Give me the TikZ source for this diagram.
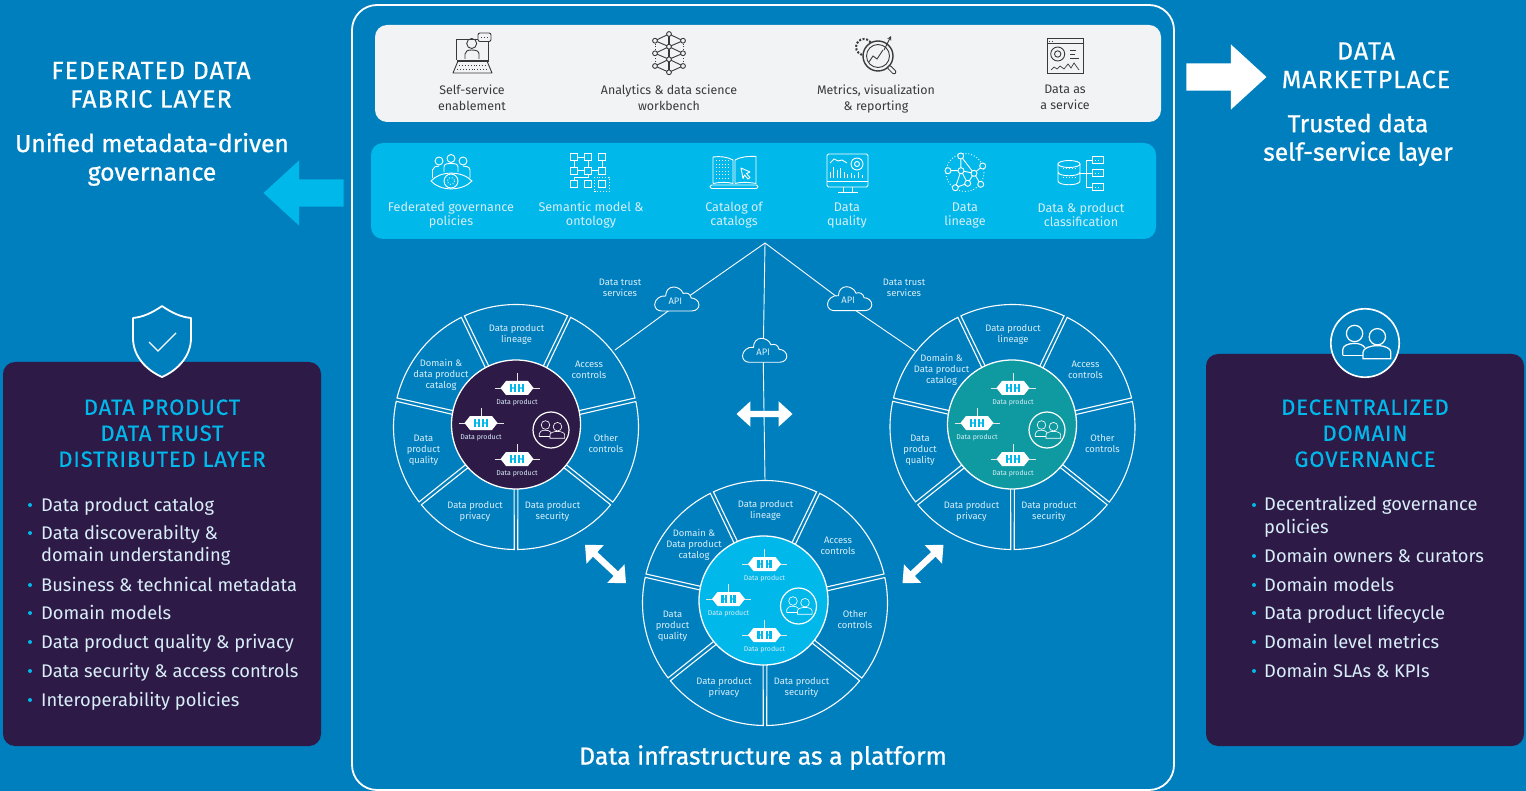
\documentclass[tikz,border=0pt]{standalone}
\usepackage{fontspec}
\setmainfont{Fira Sans}
\newfontfamily\medfont[FakeBold=0.9]{Fira Sans}
\newfontfamily\capsfont[FakeBold=0.6,LetterSpace=4]{Fira Sans}
\usepackage{xcolor}
\usetikzlibrary{calc,shapes,backgrounds}
\definecolor{bgblue}{HTML}{007FBE}
\definecolor{hubpurple}{HTML}{2E1A47}
\definecolor{hubteal}{HTML}{0E9AA0}
\definecolor{hubcyan}{HTML}{00B8EA}
\definecolor{panelgrey}{HTML}{F2F3F5}
\definecolor{txtdark}{HTML}{3A3A3A}
\definecolor{txtpale}{HTML}{D8EEF8}

\tikzset{
  strutted/.style={execute at begin node=\strut, execute at end node=\strut},
  wheelline/.style={draw=white, line width=1.1pt, line join=miter},
  apiline/.style={draw=white, line width=0.9pt},
  hub/.style={circle, draw=white, line width=1.3pt, minimum size=129pt, inner sep=0pt},
  teamring/.style={circle, draw=white, inner sep=0pt},
  wheeltxt/.style={strutted, yshift=-2pt, align=center, text=txtpale, inner sep=0pt, font=\fontsize{9.4}{11}\selectfont},
  prodtxt/.style={text=txtpale, inner sep=0pt, font=\fontsize{7}{8}\selectfont},
  toptxt/.style={strutted, yshift=-3pt, align=center, text=txtdark, inner sep=0pt, font=\fontsize{12.4}{16}\selectfont},
  bandtxt/.style={strutted, yshift=-3pt, align=center, text=txtpale, inner sep=0pt, font=\fontsize{12.6}{14}\selectfont},
  headtxt/.style={strutted, yshift=-4pt, align=center, text=white, inner sep=0pt, font=\fontsize{25}{28.5}\selectfont\capsfont},
  subtxt/.style={strutted, yshift=-3pt, align=center, text=white, inner sep=0pt, font=\fontsize{24.6}{28.5}\selectfont\medfont},
  boxhead/.style={strutted, yshift=-4pt, align=center, text=hubcyan, inner sep=0pt, font=\fontsize{22}{26}\selectfont\capsfont},
  itemtxt/.style={strutted, yshift=-2pt, anchor=west, align=left, text=txtpale, inner sep=0pt, font=\fontsize{18.3}{22.5}\selectfont},
  apitxt/.style={text=txtpale, inner sep=0pt, minimum height=9pt, font=\fontsize{9.4}{10}\selectfont},
  dotitem/.style={circle, fill=hubcyan, inner sep=0pt, minimum size=4pt},
  iconDark/.style={draw=txtdark, line width=0.9pt},
  iconLight/.style={draw=white, line width=0.9pt},
  blockarrow/.style={single arrow, inner xsep=0pt, inner ysep=13.5pt, minimum height=80pt,
    single arrow head extend=19pt, single arrow tip angle=85},
  twoway/.style={double arrow, fill=white, inner xsep=0pt, inner ysep=3pt, minimum height=56pt,
    double arrow head extend=9.5pt, double arrow tip angle=85}
}

\newcommand{\peopleicon}[5]{%
  \node[teamring, minimum size={36pt*#4}, line width={0.7pt+0.5pt*#4}, fill=#5] (#1) at (#2,#3) {};
  \begin{scope}[shift={(#2,#3)}, scale=#4, line width={0.65pt*#4}]
    \draw[white] (-5.5,-5) circle (4.3);
    \draw[white] (-11.7,6.5) -- (-11.7,3.5) .. controls (-11.7,1.5) and (-9,0.2) .. (-5.5,0.2)
      .. controls (-3,0.2) and (-1,1) .. (0,2.5);
    \draw[white, fill=#5] (6.5,-3.3) circle (4.3);
    \draw[white, fill=#5] (-1,8.3) -- (-1,4.8) .. controls (-1,2.8) and (2.5,1.4) .. (6.5,1.4)
      .. controls (10.5,1.4) and (13.6,2.8) .. (13.6,4.8) -- (13.6,8.3) -- cycle;
    \draw[white] (-11.7,6.5) -- (-1,6.5);
  \end{scope}}

\newcommand{\dataprod}[3]{%
  \begin{scope}[shift={(#2,#3)}]
    \draw[white!80!gray, line width=0.8pt] (-22.5,0) -- (22.5,0) (0,-15) -- (0,0);
    \fill[white] (-16.5,0) -- (-11,-7) -- (11,-7) -- (16.5,0) -- (11,7) -- (-11,7) -- cycle;
    \foreach \x in {-6,-2.2,2.2,6} {\fill[hubcyan] (\x-1.1,-3.8) rectangle (\x+1.1,3.8);}
    \fill[hubcyan] (-6,-0.6) rectangle (-2.2,0.6) (2.2,-0.6) rectangle (6,0.6);
    \node[prodtxt] (#1) at (0,15) {Data product};
  \end{scope}}

\newcommand{\apicloud}[3]{%
  \begin{scope}[shift={(#2,#3)}]
    \draw[white, line width=0.9pt, fill=bgblue] (-15,12) -- (15,12) .. controls (20,12) and (22.3,8.5) .. (22.3,6)
      .. controls (22.3,2) and (18.5,-1) .. (14.5,-1) .. controls (14,-5) and (10,-7) .. (6.5,-5.5)
      .. controls (5,-10) and (0,-12) .. (-3,-12) .. controls (-8,-12) and (-11,-8) .. (-11,-3)
      .. controls (-17,-4) and (-22,1) .. (-22,5.5) .. controls (-22,9.5) and (-19,12) .. (-15,12) -- cycle;
    \node[apitxt] (#1) at (-1.3,2) {API};
  \end{scope}}

\newcommand{\datawheel}[7]{%
  \begin{scope}[shift={#2}]
    \foreach \a in {64.3,12.9,-38.6,-90,-141.4,-192.9,-244.3} {
      \draw[wheelline] ({\a+0.8}:122.5pt) arc[start angle={\a+0.8}, end angle={\a+50.6}, radius=122.5pt]
        -- ({\a+49.6}:60pt) -- ({\a+1.8}:60pt) -- cycle;
    }
    \foreach \i/\lx/\ly/\txt in {1/0.5/-94/{Data product\\lineage}, 2/73/-58/{Access\\controls},
        3/90/16/{Other\\controls}, 4/36.5/83/{Data product\\security}, 5/-41/83/{Data product\\privacy},
        6/-92.5/22/{Data\\product\\quality}} {
      \node[wheeltxt] (#1seg\i) at (\lx,\ly) {\txt};
    }
    \node[wheeltxt] (#1cat) at (#4,#5) {Domain \&\\#6 product\\catalog};
    \begin{scope}[shift={(#7,0)}]
      \node[hub, fill=#3] (#1hub) at (0,-2.5) {};
      \dataprod{#1prodA}{1}{-39}
      \dataprod{#1prodB}{-35}{-4}
      \dataprod{#1prodC}{1}{32}
      \peopleicon{#1team}{35}{3}{1}{#3}
    \end{scope}
  \end{scope}}

\begin{document}
\begin{tikzpicture}[x=1pt, y=-1pt]
    \useasboundingbox (0,0) rectangle (1526,791);
    \coordinate (apex) at (765,243);
    \coordinate (rimA) at (615,350);
    \coordinate (rimB) at (915,351);
    \coordinate (rimC) at (765,481);

    % frame and the two bands
    \draw[white, line width=1.8pt, rounded corners=25pt] (352,5) rectangle (1174,790);
    \fill[panelgrey, rounded corners=12pt] (375,25) rectangle (1161,122);
    \fill[hubcyan, rounded corners=12pt] (371,143) rectangle (1156,239);

    \node[toptxt] (topA) at (472,97) {Self-service\\enablement};
    \node[toptxt] (topB) at (669,97) {Analytics \& data science\\workbench};
    \node[toptxt] (topC) at (876,97) {Metrics, visualization\\\& reporting};
    \node[toptxt] (topD) at (1065,97) {Data as\\a service};
    \node[bandtxt] (bandA) at (451,213) {Federated governance\\policies};
    \node[bandtxt] (bandB) at (591,213) {Semantic model \&\\ontology};
    \node[bandtxt] (bandC) at (734,213) {Catalog of\\catalogs};
    \node[bandtxt] (bandD) at (847,213) {Data\\quality};
    \node[bandtxt] (bandE) at (965,213) {Data\\lineage};
    \node[bandtxt] (bandF) at (1081,214) {Data \& product\\classification};

    %% laptop with speaker
    \draw[iconDark] (456,60) -- (456,39) -- (478,39) (488,42) -- (488,60);
    \draw[iconDark] (471.7,43.5) circle (5);
    \draw[iconDark] (465,59) -- (465,54) .. controls (465,51) and (468,50) .. (471.7,50) .. controls (476,50) and (479,51) .. (479,54) -- (479,59);
    \draw[iconDark, line join=round] (458,61) -- (487,61) -- (492,73) -- (453,73) -- cycle;
    \fill[txtdark] (456.5,60) rectangle (488.5,62);
    \draw[iconDark, dotted] (459,65) -- (486,65) (457,69) -- (488,69);
    \draw[iconDark, fill=panelgrey, rounded corners=2pt] (478,33) rectangle (491,41.5);
    \draw[iconDark, dotted] (481,37) -- (488,37);

    %% layered network
    \draw[iconDark] (669,34) -- (655,40.7) -- (669,46.7) -- (683,40.7) -- cycle (669,46.7) -- (655,53.3) -- (669,59.3) -- (683,53.3) -- cycle
      (669,59.3) -- (655,66) -- (669,72.3) -- (683,66) -- cycle;
    \draw[iconDark, line width=1.3pt] (669,34) -- (669,72.3);
    \draw[iconDark, dotted] (655,40.7) -- (655,66) (683,40.7) -- (683,66);
    \foreach \x/\y in {669/34,655/40.7,683/40.7,669/46.7,655/53.3,683/53.3,669/59.3,655/66,683/66,669/72.3} {
      \draw[iconDark, fill=panelgrey] (\x,\y) circle (2.4);
    }

    %% magnifier
    \draw[txtdark, line width=2pt, dash pattern=on 2pt off 1.6pt] (864,47) circle (8);
    \draw[iconDark, line width=1.4pt, fill=panelgrey] (878,56) circle (15);
    \draw[iconDark] (878,56) circle (11.5);
    \draw[txtdark, line width=4.6pt, line cap=round] (889.5,67.5) -- (894,72);
    \draw[panelgrey, line width=2.6pt, line cap=round] (889.5,67.5) -- (894,72);
    \draw[iconDark] (869,62) -- (873,56) -- (877,59) -- (883,50);
    \draw[iconDark, -stealth] (884,50) -- (891,36);

    %% dashboard page
    \draw[iconDark] (1047.5,38.5) rectangle (1083.5,73.5) (1047.5,43.5) -- (1083.5,43.5);
    \draw[iconDark, dotted] (1049,41) -- (1054,41);
    \draw[iconDark] (1057.7,54) circle (7) (1057.7,54) circle (3.2);
    \draw[iconDark] (1070,50) -- (1076,50) (1070,54) -- (1075,54) (1070,58) -- (1079,58);
    \draw[iconDark, line width=0.7pt] (1051,70) -- (1054,67) -- (1057,69) -- (1060,66) -- (1064,69) -- (1068,64) -- (1071,68) -- (1074,63) -- (1079,70);

    %% eye with people
    \foreach \x/\y in {439/161,451/158.5,463/161} {
      \draw[iconLight] (\x,\y) circle (4);
    }
    \draw[iconLight] (432.5,178) -- (432.5,170) .. controls (433,167) and (436,166) .. (439,166);
    \draw[iconLight] (470,178) -- (470,170) .. controls (470,167) and (466,166) .. (463,166);
    \draw[iconLight] (444,172) -- (444,167) .. controls (444,164) and (447,163.5) .. (451,163.5) .. controls (455,163.5) and (458,164) .. (458,167) -- (458,172);
    \draw[iconLight, fill=hubcyan] (431,181) .. controls (440,170.5) and (462,170.5) .. (472,181) .. controls (462,191.5) and (440,191.5) .. (431,181) -- cycle;
    \draw[iconLight] (451,181) circle (7);
    \draw[iconLight, dotted] (451,181) circle (3.6);

    %% model squares
    \draw[iconLight] (577.5,157) -- (584.5,157) (574,160.5) -- (574,167) (588,174) -- (588,177) -- (574,177) -- (574,180.5)
      (577.5,170.7) -- (584.5,170.7) (591.5,170.7) -- (598.5,170.7) (602,160.5) -- (602,167) (588,160.5) -- (588,167);
    \foreach \x in {574,588,602} {
      \foreach \y in {157,170.7,184.3} {
        \draw[iconLight] (\x-3.5,\y-3.5) rectangle (\x+3.5,\y+3.5);
      }
    }
    \draw[iconLight, dotted] (594.5,177) rectangle (609,191.5);

    %% open book on laptop
    \draw[iconLight] (713,183.5) -- (713,157) .. controls (720,156) and (728,157) .. (733,160) -- (733,183.5) .. controls (728,182) and (720,182) .. (713,183.5);
    \draw[iconLight] (735,183.5) -- (735,160) .. controls (740,157) and (748,156) .. (756,156.5) -- (756,183.5) .. controls (748,182) and (740,182) .. (735,183.5);
    \draw[iconLight, rounded corners=1.5pt] (710,185) rectangle (758,188.5);
    \foreach \y in {161,164.5,168,171.5,175,178.5} {
      \draw[iconLight, dotted, line width=1pt] (716,\y) -- (730,\y);
    }
    \draw[iconLight, line join=round] (741,168) -- (750,172) -- (746.5,173.5) -- (750,177.5) -- (748,179) -- (744.5,175) -- (743,178.5) -- cycle;

    %% quality monitor
    \draw[iconLight, rounded corners=1.5pt] (827,154) rectangle (868,187);
    \draw[iconLight] (827,181) -- (868,181) (843,187) -- (843,192) (852,187) -- (852,192) (838,192) -- (858,192);
    \draw[iconLight] (830,163) -- (834,159) -- (838,161) -- (842,160) -- (847,163);
    \draw[iconLight] (857,164) circle (6) (857,164) circle (2.5);
    \foreach \x/\y in {830/172,833.5/167,837/170,840.5/168,844/172,847.5/174,851/173,854.5/175,858/172,862/175} {
      \draw[iconLight, line width=0.7pt] (\x,178) -- (\x,\y);
    }

    %% lineage graph
    \draw[iconLight, dotted] (965,172.5) circle (19);
    \draw[iconLight] (960.7,156) -- (961,170.7) -- (955.3,187.7) (960.7,156) -- (974,173.3) -- (967.7,183.3) -- (961,170.7) -- (974,173.3) -- (982.7,166)
      (948,170.7) -- (961,170.7) (974,173.3) -- (980.7,184.3) (955.3,187.7) -- (967.7,183.3);
    \foreach \x/\y in {960.7/156,982.7/166,948/170.7,961/170.7,974/173.3,967.7/183.3,980.7/184.3,955.3/187.7} {
      \draw[iconLight, fill=hubcyan] (\x,\y) circle (3);
    }

    %% database tree
    \draw[iconLight] (1058,164) -- (1058,181) .. controls (1058,186) and (1080,186) .. (1080,181) -- (1080,164)
      (1058,172) .. controls (1058,177) and (1080,177) .. (1080,172);
    \draw[iconLight] (1069,164) ellipse (11 and 3.5);
    \draw[iconLight] (1080,173.3) -- (1092,173.3) (1092,160) -- (1086,160) -- (1086,187) -- (1092,187);
    \foreach \y in {160,173.3,187} {
      \draw[iconLight] (1092,\y-3.5) rectangle (1103,\y+3.5);
      \draw[iconLight, dotted] (1095,\y) -- (1100,\y);
    }
    \draw[iconLight, dotted] (1063,168.5) -- (1075,168.5) (1063,177) -- (1075,177);

    % wheels
    \datawheel{wheelA}{(516,427)}{hubpurple}{-75}{-54}{data}{0}
    \datawheel{wheelB}{(1012.5,427)}{hubteal}{-71}{-59}{Data}{-0.5}
    \datawheel{wheelC}{(765,603)}{hubcyan}{-71}{-60}{Data}{-1.5}

    \apicloud{apiL}{676.7}{299}
    \apicloud{apiC}{764.5}{350.3}
    \apicloud{apiR}{849.5}{298.7}
    \node[wheeltxt] (trustL) at (620,287.5) {Data trust\\services};
    \node[wheeltxt] (trustR) at (904,287.5) {Data trust\\services};

    \node[twoway] (moveC) at (764.5,414) {};
    \node[twoway, rotate=-43] (moveL) at (605.5,564) {};
    \node[twoway, rotate=43] (moveR) at (923,564) {};

    \node[subtxt, font=\fontsize{24.8}{28}\selectfont\medfont] (platform) at (763,756) {Data infrastructure as a platform};

    % side titles
    \node[headtxt] (fabric) at (151,85) {FEDERATED DATA\\FABRIC LAYER};
    \node[subtxt] (unified) at (152,158) {Unified metadata-driven\\governance};
    \node[blockarrow, fill=hubcyan, rotate=180] (toFabric) at (311,193) {};
    \node[blockarrow, fill=white] (toMarket) at (1219,77) {};
    \node[headtxt] (market) at (1366,65.5) {DATA\\MARKETPLACE};
    \node[subtxt] (trusted) at (1358,138.5) {Trusted data\\self-service layer};

    % side boxes
    \fill[hubpurple, rounded corners=12pt] (3,362) rectangle (321,746);
    \fill[hubpurple, rounded corners=12pt] (1206,354) rectangle (1524,746);
    \draw[white, line width=1.8pt, fill=bgblue, line join=round] (162,306) .. controls (172,313) and (181,317) .. (191,318) -- (191,338)
      .. controls (191,356) and (178,370) .. (162,377) .. controls (146,370) and (133,356) .. (133,338) -- (133,318)
      .. controls (143,317) and (152,313) .. (162,306) -- cycle;
    \draw[white, line width=1.4pt] (149,342) -- (158,351) -- (176,333);
    \peopleicon{teamBig}{1365}{343}{1.9}{bgblue}

    \node[boxhead] (trustHead) at (162,433) {DATA PRODUCT\\DATA TRUST\\DISTRIBUTED LAYER};
    \node[boxhead] (domainHead) at (1365,433) {DECENTRALIZED\\DOMAIN\\GOVERNANCE};
    \foreach \i/\y/\txt in {1/505/{Data product catalog}, 2/544.5/{Data discoverabilty \&\\domain understanding},
        3/585/{Business \& technical metadata}, 4/613/{Domain models}, 5/642/{Data product quality \& privacy},
        6/671/{Data security \& access controls}, 7/700/{Interoperability policies}} {
      \node[itemtxt] (itemL\i) at (41,\y) {\txt};
    }
    \foreach \i/\y in {1/505,2/533,3/585,4/613,5/642,6/671,7/700} {
      \node[dotitem] (dotL\i) at (30,\y) {};
    }
    \foreach \i/\y/\txt in {1/516/{Decentralized governance\\policies}, 2/556/{Domain owners \& curators},
        3/585/{Domain models}, 4/613/{Data product lifecycle}, 5/642/{Domain level metrics}, 6/671/{Domain SLAs \& KPIs}} {
      \node[itemtxt] (itemR\i) at (1264,\y) {\txt};
    }
    \foreach \i/\y in {1/505,2/556,3/585,4/613,5/642,6/671} {
      \node[dotitem] (dotR\i) at (1254,\y) {};
    }

    \begin{scope}[on background layer]
      \fill[bgblue] (0,0) rectangle (1526,791);
      \draw[apiline] (apex) -- (apiL.south);
      \draw[apiline] (apiL.south) -- (rimA);
      \draw[apiline] (apex) -- (apiR.south);
      \draw[apiline] (apiR.south) -- (rimB);
      \draw[apiline] (apex) -- (apiC.south);
      \draw[apiline] (apiC.south) -- (rimC);
    \end{scope}
\end{tikzpicture}
\end{document}
